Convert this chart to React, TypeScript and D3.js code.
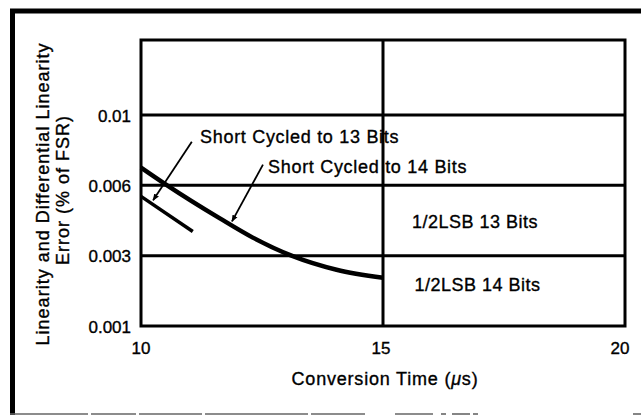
import React from 'react';
import * as d3 from 'd3';

// conversion time (us) axis
const timeTicks = [10, 15, 20];
// error axis (% of FSR), drawn with equal spacing between the levels
const errorTicks = [0.001, 0.003, 0.006, 0.01];
const errorTickLabels = ['0.001', '0.003', '0.006', '0.01'];
const errorTop = 0.014;

// short cycled to 14 bits
const cycled14Time = [10.0, 10.54, 11.63, 12.31, 13.11, 14.04, 15.0];
const cycled14Error = [0.00701, 0.0060, 0.00459, 0.00377, 0.0030, 0.0026, 0.00237];

// short cycled to 13 bits
const cycled13Time = [10.0, 11.07];
const cycled13Error = [0.00553, 0.00403];

const levelLabels = ['1/2LSB 13 Bits', '1/2LSB 14 Bits'];
const levelLabelTimes = [15.6, 15.65];
const levelLabelErrors = [0.0042, 0.0020];

const font = 'Liberation Sans, Arial, Helvetica, sans-serif';
// scanned type looks heavier than the screen font
const ink = { fill: '#000', stroke: '#000', strokeWidth: 0.35 };

function Frame() {
    // scanned outer border: heavy top / left, thin broken bottom
    const bottomBits = [[10, 88], [91, 136], [139, 202], [205, 308], [311, 365], [395, 433], [441, 446], [452, 470], [473, 478], [633, 641]];
    return (
        <g>
            <line x1={10} x2={641} y1={11} y2={11} stroke="#000" strokeWidth={5} />
            <line x1={12.5} x2={12.5} y1={9} y2={415} stroke="#000" strokeWidth={5} />
            {bottomBits.map((b, i) =>
                <line key={`b_${i}`} x1={b[0]} x2={b[1]} y1={414} y2={414} stroke="#666" strokeWidth={1.6} />
            )}
        </g>
    );
}

export default function App() {
    const width = 641;
    const height = 416;
    const left = 141, right = 625, top = 40, bottom = 326;
    const step = (bottom - top - 75) / 3;

    const x = d3.scaleLinear().domain([10, 20]).range([left, right]);
    const y = d3.scaleLinear()
        .domain([...errorTicks, errorTop])
        .range([bottom, bottom - step, bottom - 2 * step, bottom - 3 * step, top]);

    const line = d3.line<number>()
        .x((d, i) => x(cycled14Time[i]))
        .y((d) => y(d))
        .curve(d3.curveMonotoneX);
    const line13 = d3.line<number>()
        .x((d, i) => x(cycled13Time[i]))
        .y((d) => y(d));

    const arrows = [
        { from: [11.05, 0.00848], to: [10.25, 0.00536] },
        { from: [12.52, 0.00718], to: [11.88, 0.00446] },
    ];

    return (
        <svg width={width} height={height} xmlns="http://www.w3.org/2000/svg"
            style={{ position: 'absolute', left: 0, top: 0, background: '#fff' }}
            fontFamily={font}>
            <defs>
                <marker id="head" viewBox="0 0 10 10" refX={9} refY={5} markerWidth={7} markerHeight={7}
                    markerUnits="userSpaceOnUse" orient="auto">
                    <path d="M0,1 L10,5 L0,9 Z" fill="#000" />
                </marker>
            </defs>
            <rect width={width} height={height} fill="#fff" />
            <Frame />

            {/* grid */}
            {errorTicks.slice(1).map((v, i) =>
                <line key={`gy_${i}`} x1={left} x2={right} y1={y(v)} y2={y(v)} stroke="#000" strokeWidth={3} />
            )}
            <line x1={x(15)} x2={x(15)} y1={top} y2={bottom} stroke="#000" strokeWidth={3} />
            <rect x={left} y={top} width={right - left} height={bottom - top} fill="none" stroke="#000" strokeWidth={3} />

            {/* tick labels */}
            {errorTicks.map((v, i) =>
                <text key={`ty_${i}`} x={left - 10} y={y(v) + 6.5} textAnchor="end" fontSize={17} {...ink}>{errorTickLabels[i]}</text>
            )}
            {timeTicks.map((v, i) =>
                <text key={`tx_${i}`} x={x(v) - (i === 0 ? 0 : i === 1 ? 2 : 5)} y={bottom + 28} textAnchor="middle" fontSize={17} {...ink}>{v}</text>
            )}

            {/* axis titles */}
            <text x={385} y={385} textAnchor="middle" fontSize={18} letterSpacing={0.8} {...ink}>
                Conversion Time (<tspan fontStyle="italic">μ</tspan>s)
            </text>
            <text transform="translate(49,194) rotate(-90)" textAnchor="middle" fontSize={18} letterSpacing={1} {...ink}>
                Linearity and Differential Linearity
            </text>
            <text transform="translate(69,190) rotate(-90)" textAnchor="middle" fontSize={18} letterSpacing={1} {...ink}>
                Error (% of FSR)
            </text>

            {/* curves */}
            <path d={line(cycled14Error) || ''} fill="none" stroke="#000" strokeWidth={4.5} strokeLinecap="butt" />
            <path d={line13(cycled13Error) || ''} fill="none" stroke="#000" strokeWidth={3.5} />

            {/* annotations */}
            {arrows.map((a, i) =>
                <line key={`ar_${i}`} x1={x(a.from[0])} y1={y(a.from[1])} x2={x(a.to[0])} y2={y(a.to[1])}
                    stroke="#000" strokeWidth={1.8} markerEnd="url(#head)" />
            )}
            <text x={200} y={143} fontSize={18} letterSpacing={0.7} {...ink}>Short Cycled to 13 Bits</text>
            <text x={268} y={173} fontSize={18} letterSpacing={0.7} {...ink}>Short Cycled to 14 Bits</text>
            {levelLabels.map((t, i) =>
                <text key={`lv_${i}`} x={x(levelLabelTimes[i])} y={y(levelLabelErrors[i])} fontSize={18} letterSpacing={0.5} {...ink}>{t}</text>
            )}
        </svg>
    );
}
